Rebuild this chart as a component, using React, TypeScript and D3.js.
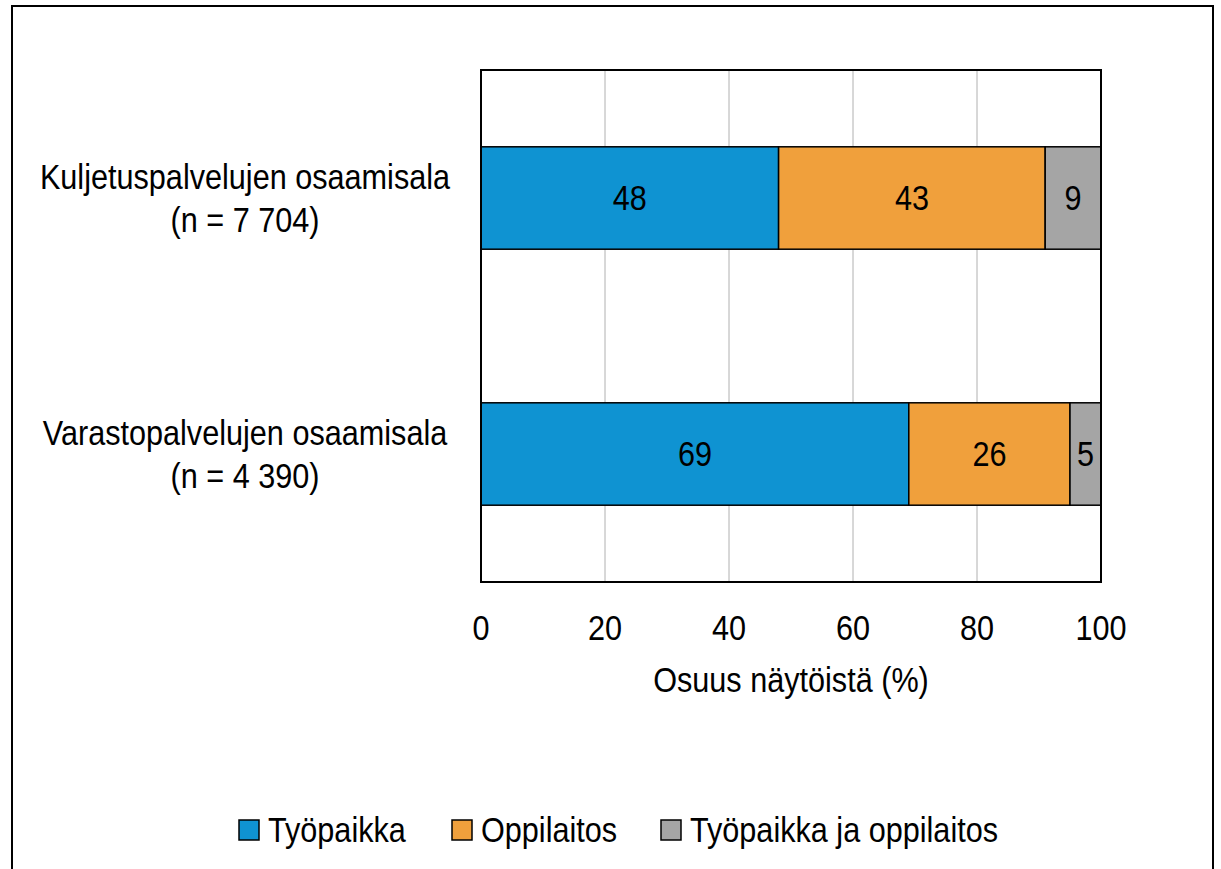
import React from "react";
import * as d3 from "d3";

const categories = ["Kuljetuspalvelujen osaamisala", "Varastopalvelujen osaamisala"];
const nLabels = ["(n = 7 704)", "(n = 4 390)"];
const seriesNames = ["Työpaikka", "Oppilaitos", "Työpaikka ja oppilaitos"];
const seriesColors = ["#0f93d2", "#f0a03c", "#a5a5a5"];
const tyopaikka = [48, 69];
const oppilaitos = [43, 26];
const molemmat = [9, 5];
const xTicks = [0, 20, 40, 60, 80, 100];
const xTitle = "Osuus näytöistä (%)";

const FONT = "'Liberation Sans Narrow', 'Arial Narrow', 'Liberation Sans', Arial, sans-serif";
const SX = 0.875;
const FS = 35;

function T({ x, y, anchor = "middle", children }: { x: number; y: number; anchor?: string; children: React.ReactNode }) {
  return (
    <text transform={`translate(${x},${y}) scale(${SX},1)`} textAnchor={anchor as any}
      dominantBaseline="central" fontSize={FS} fill="#000">{children}</text>
  );
}

export default function App() {
  const W = 1221, H = 869;
  const left = 481, right = 1101, top = 70, bottom = 582;
  const x = d3.scaleLinear().domain([0, 100]).range([left, right]);
  const y = d3.scaleBand().domain(categories).range([top, bottom]).paddingInner(0.6).paddingOuter(0.3);
  const series = [tyopaikka, oppilaitos, molemmat];
  const rows = categories.map((c, i) => {
    let acc = 0;
    return series.map((s, k) => {
      const x0 = acc;
      acc += s[i];
      return { k, x0, x1: acc, v: s[i] };
    });
  });
  const legendX = [239, 452, 661];
  return (
    <svg width={W} height={H} style={{ position: "absolute", left: 0, top: 0, fontFamily: FONT }}>
      <rect x={0} y={0} width={W} height={H} fill="#fff" />
      <rect x={12} y={6} width={1201} height={H + 20} fill="none" stroke="#000" strokeWidth={2} />
      {xTicks.filter(t => t > 0 && t < 100).map(t => (
        <line key={t} x1={x(t)} x2={x(t)} y1={top} y2={bottom} stroke="#b0b0b0" strokeWidth={1} />
      ))}
      {rows.map((r, i) => (
        <g key={i}>
          {r.map(seg => (
            <g key={seg.k}>
              <rect x={x(seg.x0)} y={y(categories[i])!} width={x(seg.x1) - x(seg.x0)} height={y.bandwidth()}
                fill={seriesColors[seg.k]} stroke="#000" strokeWidth={1.5} />
              <T x={(x(seg.x0) + x(seg.x1)) / 2} y={y(categories[i])! + y.bandwidth() / 2}>{seg.v}</T>
            </g>
          ))}
          <T x={245} y={y(categories[i])! + y.bandwidth() / 2 - 21}>{categories[i]}</T>
          <T x={245} y={y(categories[i])! + y.bandwidth() / 2 + 22}>{nLabels[i]}</T>
        </g>
      ))}
      <rect x={left} y={top} width={right - left} height={bottom - top} fill="none" stroke="#000" strokeWidth={2} />
      {xTicks.map(t => (
        <T key={t} x={x(t)} y={628}>{t}</T>
      ))}
      <T x={(left + right) / 2} y={680}>{xTitle}</T>
      {seriesNames.map((s, k) => (
        <g key={s}>
          <rect x={legendX[k]} y={820} width={20} height={20} fill={seriesColors[k]} stroke="#000" strokeWidth={1.5} />
          <T x={legendX[k] + 29} y={830} anchor="start">{s}</T>
        </g>
      ))}
    </svg>
  );
}
